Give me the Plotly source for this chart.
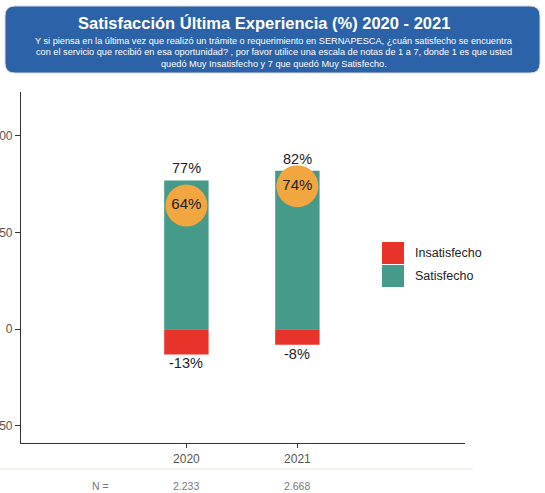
import plotly.graph_objects as go

years = ["2020", "2021"]
satisfecho = [77, 82]
insatisfecho = [-13, -8]
neta = [64, 74]
n_labels = ["2.233", "2.668"]
y_ticks = [-50, 0, 50, 100]

W, H = 545, 493
FONT = "Liberation Sans, Arial, sans-serif"
GREEN = "#459A89"
RED = "#E8332A"
ORANGE = "#F1A640"
BLUE = "#2C62A7"

def px(x):
    return x / W

def py(y):
    return 1 - y / H

xpos = [0, 1]

fig = go.Figure()
fig.add_trace(go.Bar(x=xpos, y=satisfecho, width=0.4, marker=dict(color=GREEN, line=dict(width=0)),
                     name="Satisfecho", showlegend=False, hoverinfo="skip"))
fig.add_trace(go.Bar(x=xpos, y=insatisfecho, width=0.4, marker=dict(color=RED, line=dict(width=0)),
                     name="Insatisfecho", showlegend=False, hoverinfo="skip"))
fig.add_trace(go.Scatter(x=xpos, y=neta, mode="markers+text",
                         marker=dict(size=42, color=ORANGE, line=dict(width=0)),
                         text=[f"{v}%" for v in neta], textposition="middle center",
                         textfont=dict(size=15, color="#222222", family=FONT),
                         showlegend=False, hoverinfo="skip", cliponaxis=False))

annotations = []
for x, s, i in zip(xpos, satisfecho, insatisfecho):
    annotations.append(dict(x=x, y=s, xref="x", yref="y", text=f"{s}%", showarrow=False,
                            yanchor="bottom", yshift=2, font=dict(size=14.5, color="#222222", family=FONT)))
    annotations.append(dict(x=x, y=i, xref="x", yref="y", text=f"{i}%", showarrow=False,
                            yanchor="top", yshift=1, font=dict(size=14.5, color="#222222", family=FONT)))

# N row
annotations.append(dict(x=px(100), y=py(486), xref="paper", yref="paper", text="N =", showarrow=False,
                        xanchor="center", yanchor="middle", font=dict(size=10.5, color="#777777", family=FONT)))
for x, n in zip(xpos, n_labels):
    annotations.append(dict(x=x, y=py(486), xref="x", yref="paper", text=n, showarrow=False,
                            xanchor="center", yanchor="middle", font=dict(size=10.5, color="#777777", family=FONT)))

# Header
annotations.append(dict(x=px(264), y=py(23), xref="paper", yref="paper",
                        text="<b>Satisfacción Última Experiencia (%) 2020 - 2021</b>", showarrow=False,
                        xanchor="center", yanchor="middle", font=dict(size=16.5, color="white", family=FONT)))
sub = ["Y si piensa en la última vez que realizó un trámite o requerimiento en SERNAPESCA, ¿cuán satisfecho se encuentra",
       "con el servicio que recibió en esa oportunidad? , por favor utilice una escala de notas de 1 a 7, donde 1 es que usted",
       "quedó Muy Insatisfecho y 7 que quedó Muy Satisfecho."]
for k, line in enumerate(sub):
    annotations.append(dict(x=px(274), y=py(41 + 11.5 * k), xref="paper", yref="paper", text=line,
                            showarrow=False, xanchor="center", yanchor="middle",
                            font=dict(size=9.2, color="white", family=FONT)))

# Legend (custom)
leg = [("Insatisfecho", RED, 253), ("Satisfecho", GREEN, 276)]
shapes = []
for name, col, yc in leg:
    shapes.append(dict(type="rect", xref="paper", yref="paper", x0=px(382), x1=px(404),
                       y0=py(yc - 11), y1=py(yc + 11), fillcolor=col, line=dict(width=0)))
    annotations.append(dict(x=px(413), y=py(yc), xref="paper", yref="paper", text=name, showarrow=False,
                            xanchor="left", yanchor="middle", font=dict(size=12.5, color="#222222", family=FONT)))

# Header rounded rectangle
x0, x1, y0, y1, r = 5, 540, 6, 73, 10
path = (f"M {px(x0 + r)} {py(y0)} L {px(x1 - r)} {py(y0)} Q {px(x1)} {py(y0)} {px(x1)} {py(y0 + r)} "
        f"L {px(x1)} {py(y1 - r)} Q {px(x1)} {py(y1)} {px(x1 - r)} {py(y1)} "
        f"L {px(x0 + r)} {py(y1)} Q {px(x0)} {py(y1)} {px(x0)} {py(y1 - r)} "
        f"L {px(x0)} {py(y0 + r)} Q {px(x0)} {py(y0)} {px(x0 + r)} {py(y0)} Z")
shapes.insert(0, dict(type="path", xref="paper", yref="paper", path=path, fillcolor=BLUE,
                      line=dict(color="#D9D9D9", width=1), layer="below"))
# separator line
shapes.append(dict(type="line", xref="paper", yref="paper", x0=0, x1=px(473), y0=py(469), y1=py(469),
                   line=dict(color="#E4E8D8", width=1)))

fig.update_layout(
    width=W, height=H, template="none",
    margin=dict(l=0, r=0, t=0, b=0),
    paper_bgcolor="white", plot_bgcolor="white",
    barmode="relative", showlegend=False,
    annotations=annotations, shapes=shapes,
    xaxis=dict(domain=[px(21), px(465)], range=[-1.49, 2.51], tickvals=xpos, ticktext=years,
               showgrid=False, zeroline=False, showline=True, linecolor="#333333", linewidth=1.2,
               ticks="outside", ticklen=4, tickcolor="#333333", automargin=False,
               tickfont=dict(size=12, color="#555555", family=FONT)),
    yaxis=dict(domain=[py(443), py(92)], range=[-58.8, 122.7], tickvals=y_ticks,
               showgrid=False, zeroline=False, showline=True, linecolor="#333333", linewidth=1.2,
               ticks="outside", ticklen=5, tickcolor="#333333", automargin=False,
               tickfont=dict(size=12, color="#555555", family=FONT)),
)

fig.write_html("out.html", config={"displayModeBar": False},
               post_script="document.body.style.margin='0';document.body.style.overflow='hidden';")
